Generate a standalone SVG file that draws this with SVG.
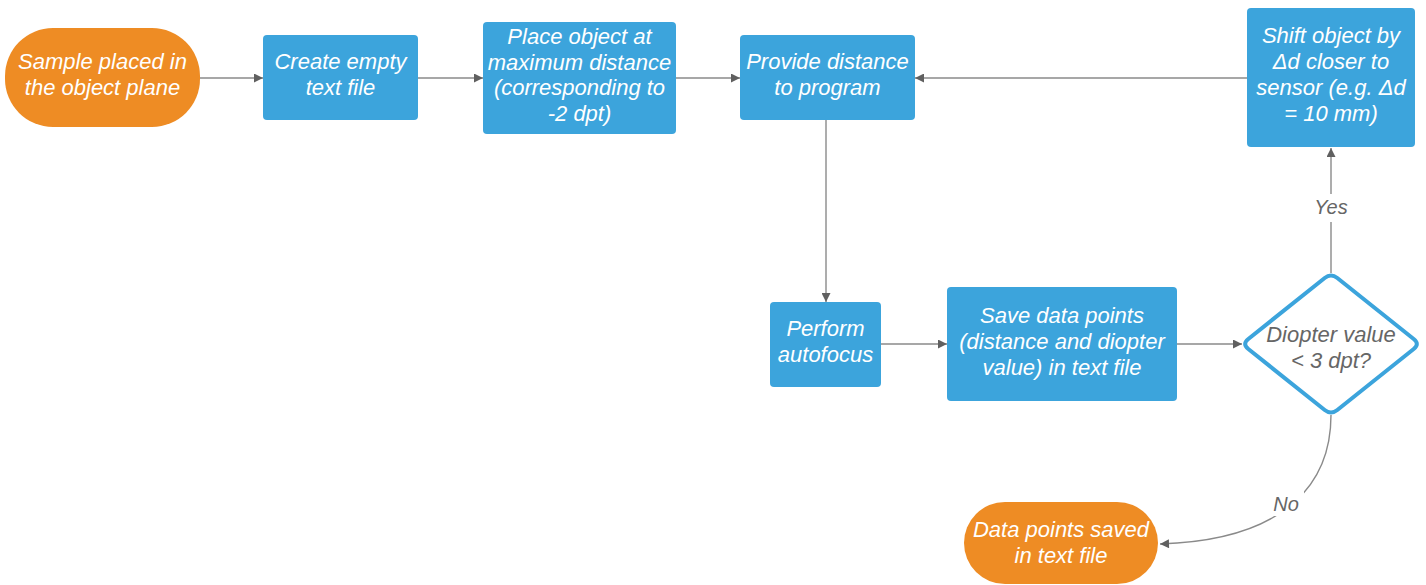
<svg xmlns="http://www.w3.org/2000/svg" width="1426" height="585" viewBox="0 0 1426 585">
<defs>
<style>
.box{fill:#3ca4dc}
.term{fill:#ee8c24}
.t{font-family:"Liberation Sans",Arial,sans-serif;font-style:italic;font-size:22px;fill:#ffffff;text-anchor:middle}
.g{font-family:"Liberation Sans",Arial,sans-serif;font-style:italic;font-size:22px;fill:#666666;text-anchor:middle}
.lbl{font-family:"Liberation Sans",Arial,sans-serif;font-style:italic;font-size:20px;fill:#666666;text-anchor:middle}
.c{fill:none;stroke:#8a8a8a;stroke-width:1.4}
</style>
<marker id="ah" viewBox="0 0 10 10" refX="10" refY="5" markerWidth="11" markerHeight="9" markerUnits="userSpaceOnUse" orient="auto">
<path d="M0,0 L10,5 L0,10 Z" fill="#606060"/>
</marker>
</defs>
<rect width="1426" height="585" fill="#ffffff"/>
<g id="connectors">
<line class="c" x1="200" y1="78" x2="263" y2="78" marker-end="url(#ah)"/>
<line class="c" x1="418" y1="78" x2="483" y2="78" marker-end="url(#ah)"/>
<line class="c" x1="676" y1="78" x2="740" y2="78" marker-end="url(#ah)"/>
<line class="c" x1="1247" y1="78" x2="915" y2="78" marker-end="url(#ah)"/>
<line class="c" x1="826" y1="120" x2="826" y2="302" marker-end="url(#ah)"/>
<line class="c" x1="881" y1="344" x2="947" y2="344" marker-end="url(#ah)"/>
<line class="c" x1="1177" y1="344" x2="1242" y2="344" marker-end="url(#ah)"/>
<line class="c" x1="1331" y1="273" x2="1331" y2="148" marker-end="url(#ah)"/>
<path class="c" d="M1331,415 C1331,480 1290,540 1160,544" marker-end="url(#ah)"/>
<rect x="1310" y="194" width="42" height="28" fill="#ffffff"/>
<text class="lbl" x="1331" y="214">Yes</text>
<rect x="1268" y="490" width="36" height="26" fill="#ffffff"/>
<text class="lbl" x="1286" y="511">No</text>
</g>
<g id="n1">
<rect class="term" x="5" y="28" width="195" height="99" rx="48" ry="48"/>
<text class="t" x="102.5" y="69">Sample placed in</text>
<text class="t" x="102.5" y="95">the object plane</text>
</g>
<g id="n2">
<rect class="box" x="263" y="35" width="155" height="85" rx="4"/>
<text class="t" x="340.5" y="69">Create empty</text>
<text class="t" x="340.5" y="95">text file</text>
</g>
<g id="n3">
<rect class="box" x="483" y="22" width="193" height="112" rx="4"/>
<text class="t" x="579.5" y="44">Place object at</text>
<text class="t" x="579.5" y="69.5">maximum distance</text>
<text class="t" x="579.5" y="95">(corresponding to</text>
<text class="t" x="579.5" y="120.5">-2 dpt)</text>
</g>
<g id="n4">
<rect class="box" x="740" y="35" width="175" height="85" rx="4"/>
<text class="t" x="827.5" y="69">Provide distance</text>
<text class="t" x="827.5" y="95">to program</text>
</g>
<g id="n5">
<rect class="box" x="1247" y="8" width="168" height="139" rx="4"/>
<text class="t" x="1331" y="43">Shift object by</text>
<text class="t" x="1331" y="69">Δd closer to</text>
<text class="t" x="1331" y="95">sensor (e.g. Δd</text>
<text class="t" x="1331" y="121">= 10 mm)</text>
</g>
<g id="n6">
<rect class="box" x="770" y="302" width="111" height="85" rx="4"/>
<text class="t" x="825.5" y="336">Perform</text>
<text class="t" x="825.5" y="362">autofocus</text>
</g>
<g id="n7">
<rect class="box" x="947" y="287" width="230" height="114" rx="4"/>
<text class="t" x="1062" y="323">Save data points</text>
<text class="t" x="1062" y="349">(distance and diopter</text>
<text class="t" x="1062" y="375">value) in text file</text>
</g>
<g id="n8">
<path d="M1337.3,278 L1413.7,339 Q1420,344 1413.7,349 L1337.3,410 Q1331,415 1324.7,410 L1248.3,349 Q1242,344 1248.3,339 L1324.7,278 Q1331,273 1337.3,278 Z" fill="#ffffff" stroke="#3ca4dc" stroke-width="4" stroke-linejoin="round"/>
<text class="g" x="1331" y="342">Diopter value</text>
<text class="g" x="1331" y="368">&lt; 3 dpt?</text>
</g>
<g id="n9">
<rect class="term" x="964" y="502" width="194" height="82" rx="41" ry="41"/>
<text class="t" x="1061" y="537">Data points saved</text>
<text class="t" x="1061" y="563">in text file</text>
</g>
</svg>
